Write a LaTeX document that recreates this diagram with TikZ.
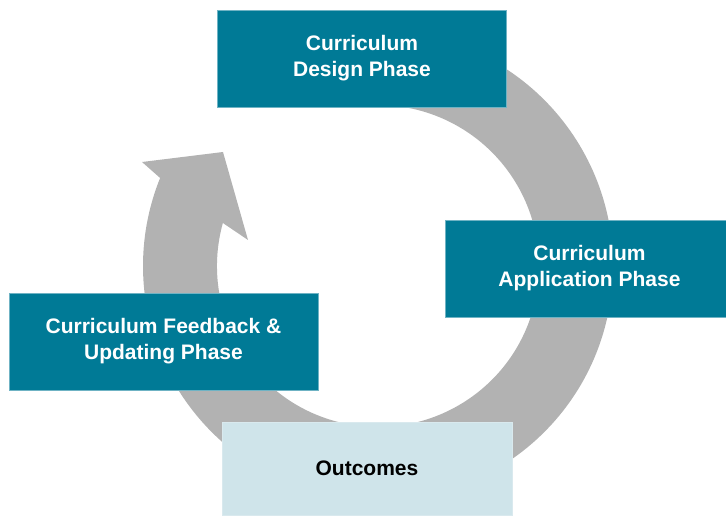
\documentclass[tikz,border=0pt]{standalone}
\usepackage{fontspec}
\setmainfont{Liberation Sans}
\usepackage{tikz}
\definecolor{phaseteal}{HTML}{007A96}
\definecolor{phaseedge}{HTML}{6FB3C4}
\definecolor{outcomeblue}{HTML}{CFE4EA}
\definecolor{ringgray}{HTML}{B2B2B2}
\tikzset{
  phasebox/.style={fill=phaseteal, draw=phaseedge, line width=0.8pt, text=white,
    font=\fontsize{21}{26}\selectfont\bfseries, align=center, inner sep=0pt},
  outcomebox/.style={fill=outcomeblue, draw=outcomeblue!80!white, line width=0.8pt, text=black,
    font=\fontsize{21}{26}\selectfont\bfseries, align=center, inner sep=0pt}
}
\begin{document}
\begin{tikzpicture}[x=1pt,y=1pt]
            \useasboundingbox (0,0) rectangle (726,515);
            % circular arrow behind the boxes
            \begin{scope}[shift={(378,249)}]
              \fill[ringgray] (80:235) arc[start angle=80, end angle=-202, radius=235]
                -- (-236,104) -- (-155,114) -- (-130,26)
                -- (-195.5:161) arc[start angle=-195.5, end angle=80, radius=161] -- cycle;
            \end{scope}
            \node[phasebox, minimum width=289pt, minimum height=97pt] (design) at (362,456.5) {Curriculum\\Design Phase};
            \node[phasebox, minimum width=289pt, minimum height=97pt] (application) at (589.5,246.5) {Curriculum\\Application Phase};
            \node[phasebox, minimum width=309pt, minimum height=97pt] (feedback) at (163.5,173.5) {Curriculum Feedback \&\\Updating Phase};
            \node[outcomebox, minimum width=290pt, minimum height=93pt] (outcomes) at (367,46.5) {Outcomes};
        \end{tikzpicture}
\end{document}
